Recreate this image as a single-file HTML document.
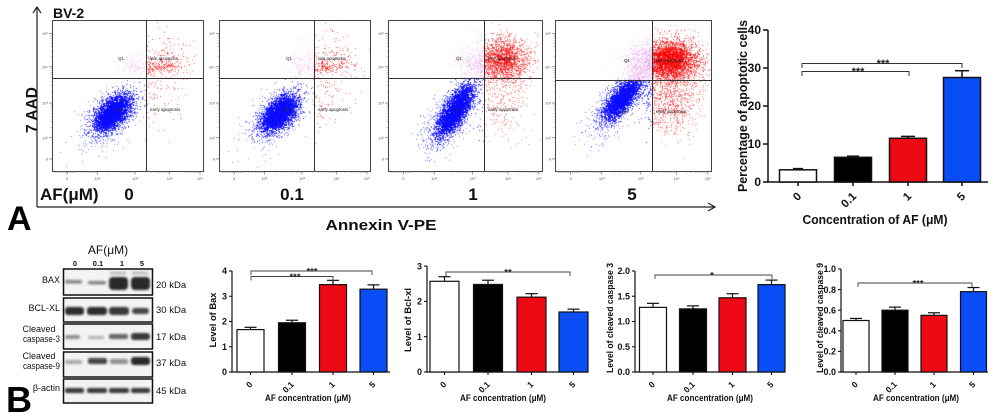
<!DOCTYPE html>
<html><head><meta charset="utf-8">
<style>
html,body{margin:0;padding:0;background:#fff;}
#wrap{position:relative;width:1000px;height:416px;overflow:hidden;background:#fff;}
#cv,#fb,#main{position:absolute;left:0;top:0;}
text{font-family:"Liberation Sans",Arial,sans-serif;}
</style></head><body>
<div id="wrap">
<svg id="fb" width="1000" height="416">
<defs><filter id="fbb"><feGaussianBlur stdDeviation="4"/></filter></defs>
<g filter="url(#fbb)" opacity="0.9">
<ellipse cx="112" cy="113" rx="16" ry="8" fill="#00f" transform="rotate(-45 112 113)"/>
<ellipse cx="279" cy="113" rx="16" ry="8" fill="#00f" transform="rotate(-45 279 113)"/>
<ellipse cx="454" cy="110" rx="20" ry="7" fill="#00f" transform="rotate(-58 454 110)"/>
<ellipse cx="502" cy="60" rx="14" ry="11" fill="#f00" opacity="0.7"/>
<ellipse cx="622" cy="98" rx="16" ry="6" fill="#00f" transform="rotate(-50 622 98)"/>
<ellipse cx="670" cy="60" rx="15" ry="11" fill="#f00"/>
<ellipse cx="670" cy="100" rx="14" ry="14" fill="#f66" opacity="0.5"/>
</g>
</svg>
<canvas id="cv" width="1000" height="416"></canvas>
<svg id="main" width="1000" height="416" viewBox="0 0 1000 416">
<defs>
<filter id="bl" x="-20%" y="-50%" width="140%" height="200%"><feGaussianBlur stdDeviation="1.1"/></filter>
</defs>

<!-- ===== Panel A axes ===== -->
<g stroke="#222" stroke-width="1.2" fill="none">
<line x1="37" y1="8" x2="37" y2="207"/>
<polyline points="33,13 37,7 41,13"/>
<line x1="37" y1="207" x2="714" y2="207"/>
<polyline points="708,203 715,207 708,211"/>
</g>
<text x="53" y="18" font-size="14" font-weight="bold" fill="#111">BV-2</text>
<text transform="translate(37,110) rotate(-90)" text-anchor="middle" font-size="16" font-weight="bold" fill="#111" textLength="46" lengthAdjust="spacingAndGlyphs">7 AAD</text>
<text x="40" y="200" font-size="17" font-weight="bold" fill="#111">AF(μM)</text>
<text x="129" y="200" text-anchor="middle" font-size="17" font-weight="bold" fill="#111">0</text>
<text x="292" y="200" text-anchor="middle" font-size="17" font-weight="bold" fill="#111">0.1</text>
<text x="473" y="200" text-anchor="middle" font-size="17" font-weight="bold" fill="#111">1</text>
<text x="632" y="200" text-anchor="middle" font-size="17" font-weight="bold" fill="#111">5</text>
<text x="381" y="230" text-anchor="middle" font-size="15" font-weight="bold" fill="#111" textLength="111" lengthAdjust="spacingAndGlyphs">Annexin V-PE</text>
<text x="7" y="230" font-size="34" font-weight="bold" fill="#000">A</text>

<g id="flowframes"></g>

<!-- ===== Top right bar chart ===== -->
<g stroke="#111" stroke-width="1.5" fill="none">
<line x1="768" y1="30" x2="768" y2="182.5"/>
<line x1="767" y1="182" x2="988" y2="182"/>
<line x1="763" y1="30" x2="768" y2="30"/>
<line x1="763" y1="68" x2="768" y2="68"/>
<line x1="763" y1="106" x2="768" y2="106"/>
<line x1="763" y1="144" x2="768" y2="144"/>
<line x1="763" y1="182" x2="768" y2="182"/>
<line x1="798" y1="182" x2="798" y2="186"/>
<line x1="853" y1="182" x2="853" y2="186"/>
<line x1="908" y1="182" x2="908" y2="186"/>
<line x1="962" y1="182" x2="962" y2="186"/>
</g>
<g font-size="12" font-weight="bold" fill="#111" text-anchor="end">
<text x="761" y="34">40</text><text x="761" y="72">30</text><text x="761" y="110">20</text><text x="761" y="148">10</text><text x="761" y="186">0</text>
</g>
<g stroke="#111" stroke-width="1.5">
<line x1="798" y1="169.8" x2="798" y2="168.6"/><line x1="793" y1="168.6" x2="803" y2="168.6"/>
<line x1="853" y1="157.3" x2="853" y2="156.2"/><line x1="847" y1="156.2" x2="859" y2="156.2"/>
<line x1="908" y1="138.3" x2="908" y2="136.4"/><line x1="901" y1="136.4" x2="915" y2="136.4"/>
<line x1="962" y1="77.5" x2="962" y2="70.7"/><line x1="955" y1="70.7" x2="969" y2="70.7"/>
<rect x="779.5" y="169.8" width="37" height="12.2" fill="#fff"/>
<rect x="834.5" y="157.3" width="37" height="24.7" fill="#000"/>
<rect x="889.5" y="138.3" width="37" height="43.7" fill="#ee0a14"/>
<rect x="943.5" y="77.5" width="37" height="104.5" fill="#0a4cf5"/>
</g>
<g stroke="#333" stroke-width="1" fill="none">
<polyline points="802,68 802,63.5 962,63.5 962,68"/>
<polyline points="802,76 802,71.5 909,71.5 909,76"/>
</g>
<g font-size="11" font-weight="bold" fill="#222" text-anchor="middle">
<text x="883" y="67">***</text><text x="858" y="75">***</text>
</g>
<g font-size="11.5" font-weight="bold" fill="#111" text-anchor="end">
<text transform="translate(802,197) rotate(-45)">0</text>
<text transform="translate(857,197) rotate(-45)">0.1</text>
<text transform="translate(912,197) rotate(-45)">1</text>
<text transform="translate(966,197) rotate(-45)">5</text>
</g>
<text x="875" y="224" text-anchor="middle" font-size="12.5" font-weight="bold" fill="#111" textLength="145" lengthAdjust="spacingAndGlyphs">Concentration of AF (μM)</text>
<text transform="translate(747,106) rotate(-90)" text-anchor="middle" font-size="12.5" font-weight="bold" fill="#111" textLength="172" lengthAdjust="spacingAndGlyphs">Percentage of apoptotic cells</text>

<!-- ===== Western blot ===== -->
<text x="108" y="254" text-anchor="middle" font-size="12" fill="#111">AF(μM)</text>
<g font-size="7.5" font-weight="bold" fill="#111" text-anchor="middle">
<text x="75" y="266">0</text><text x="98" y="266">0.1</text><text x="122" y="266">1</text><text x="142" y="266">5</text>
</g>
<g fill="#f3f3f3" stroke="#111" stroke-width="1.5">
<rect x="63.5" y="269" width="89" height="26"/>
<rect x="63.5" y="298" width="89" height="24"/>
<rect x="63.5" y="324" width="89" height="25"/>
<rect x="63.5" y="352" width="89" height="25"/>
<rect x="63.5" y="379" width="89" height="24"/>
</g>
<g filter="url(#bl)" fill="#1a1a1a">
<rect x="65" y="280" width="17" height="3.5" rx="1.5" opacity="0.5"/>
<rect x="88" y="281" width="18" height="3.5" rx="1.5" opacity="0.5"/>
<rect x="109" y="277" width="19" height="13" rx="4" opacity="0.95"/>
<rect x="131" y="277" width="19" height="13" rx="4" opacity="0.95"/>
<rect x="110" y="272" width="16" height="2" opacity="0.35"/>
<rect x="132" y="272" width="16" height="2" opacity="0.35"/>
<rect x="65" y="307" width="19" height="8" rx="3" opacity="0.9"/>
<rect x="87" y="307" width="20" height="8" rx="3" opacity="0.9"/>
<rect x="109" y="307" width="20" height="8" rx="3" opacity="0.85"/>
<rect x="132" y="308" width="17" height="6" rx="3" opacity="0.8"/>
<rect x="65" y="335" width="15" height="4" rx="2" opacity="0.45"/>
<rect x="88" y="336" width="16" height="3" rx="2" opacity="0.3"/>
<rect x="109" y="334" width="19" height="5" rx="2" opacity="0.65"/>
<rect x="131" y="333" width="19" height="7" rx="3" opacity="0.85"/>
<rect x="65" y="360" width="17" height="4" rx="2" opacity="0.35"/>
<rect x="88" y="358" width="19" height="6" rx="2" opacity="0.8"/>
<rect x="110" y="359" width="18" height="5" rx="2" opacity="0.45"/>
<rect x="131" y="357" width="19" height="8" rx="3" opacity="0.95"/>
<rect x="65" y="388" width="19" height="5" rx="2" opacity="0.85"/>
<rect x="87" y="388" width="20" height="5" rx="2" opacity="0.85"/>
<rect x="109" y="388" width="20" height="5" rx="2" opacity="0.85"/>
<rect x="131" y="388" width="19" height="5" rx="2" opacity="0.85"/>
</g>
<g font-size="9" fill="#111">
<text x="60" y="283" text-anchor="end">BAX</text>
<text x="60" y="311" text-anchor="end">BCL-XL</text>
<text x="39" y="332" text-anchor="middle">Cleaved</text>
<text x="60" y="342" text-anchor="end" textLength="37" lengthAdjust="spacingAndGlyphs">caspase-3</text>
<text x="39" y="359" text-anchor="middle">Cleaved</text>
<text x="60" y="369" text-anchor="end" textLength="37" lengthAdjust="spacingAndGlyphs">caspase-9</text>
<text x="60" y="391" text-anchor="end">β-actin</text>
</g>
<g font-size="9.5" fill="#111">
<text x="156" y="288">20 kDa</text>
<text x="156" y="313">30 kDa</text>
<text x="156" y="340">17 kDa</text>
<text x="156" y="366">37 kDa</text>
<text x="156" y="394">45 kDa</text>
</g>
<text x="6" y="412" font-size="36" font-weight="bold" fill="#000">B</text>

<g id="bottom"></g>
</svg>
</div>
<script>
(function(){
var NS="http://www.w3.org/2000/svg";
function el(tag,attrs,parent,txt){var e=document.createElementNS(NS,tag);for(var k in attrs)e.setAttribute(k,attrs[k]);if(txt!==undefined)e.textContent=txt;parent.appendChild(e);return e;}

var ff=document.getElementById('flowframes');
var plots=[
 {x0:52,y0:20,x1:203,y1:171,vx:146,hy:78},
 {x0:219,y0:20,x1:370,y1:171,vx:314,hy:78},
 {x0:388,y0:20,x1:542,y1:171,vx:484,hy:78},
 {x0:555,y0:20,x1:711,y1:171,vx:652,hy:80}
];
plots.forEach(function(p){
 var w=p.x1-p.x0,h=p.y1-p.y0;
 el('rect',{x:p.x0+0.5,y:p.y0+0.5,width:w,height:h,fill:'none',stroke:'#444','stroke-width':1},ff);
 el('line',{x1:p.vx+0.5,y1:p.y0,x2:p.vx+0.5,y2:p.y1,stroke:'#333','stroke-width':1},ff);
 el('line',{x1:p.x0,y1:p.hy+0.5,x2:p.x1,y2:p.hy+0.5,stroke:'#333','stroke-width':1},ff);
 var majors=[0.1,0.3,0.55,0.78,0.98];
 majors.forEach(function(m){var x=p.x0+w*m;el('line',{x1:x,y1:p.y1,x2:x,y2:p.y1+3.5,stroke:'#555','stroke-width':0.6},ff);});
 for(var k=0;k<4;k++){
   var s=p.x0+w*majors[k],e=p.x0+w*majors[k+1];
   for(var j=2;j<10;j++){var x=s+(e-s)*Math.log10(j);el('line',{x1:x,y1:p.y1,x2:x,y2:p.y1+2,stroke:'#777','stroke-width':0.5},ff);}
 }
 for(var q=0;q<12;q++){var x=p.x0+3+q*1.8;el('line',{x1:x,y1:p.y1,x2:x,y2:p.y1+2,stroke:'#777','stroke-width':0.5},ff);}
 var lbl=['0','10²','10³','10⁴','10⁵'];
 majors.forEach(function(m,i){el('text',{x:p.x0+w*m,y:p.y1+9,'font-size':4,'text-anchor':'middle',fill:'#555'},ff,lbl[i]);});
 var ly=[0.09,0.31,0.55,0.78,0.92];
 ly.forEach(function(m,i){var y=p.y0+h*m;el('line',{x1:p.x0-3,y1:y,x2:p.x0,y2:y,stroke:'#555','stroke-width':0.6},ff);
   el('text',{x:p.x0-4,y:y+1.5,'font-size':4,'text-anchor':'end',fill:'#555'},ff,['10⁵','10⁴','10³','10²','0'][i]);});
 for(var k2=0;k2<3;k2++){var s2=p.y0+h*ly[k2+1],e2=p.y0+h*ly[k2];for(var j2=2;j2<10;j2++){var y=s2+(e2-s2)*Math.log10(j2);el('line',{x1:p.x0-1.5,y1:y,x2:p.x0,y2:y,stroke:'#777','stroke-width':0.4},ff);}}
 el('text',{x:p.vx-28,y:p.hy-18,'font-size':4.5,fill:'#222'},ff,'Q1');
 el('text',{x:p.vx+4,y:p.hy-18,'font-size':4.5,fill:'#222'},ff,'late apoptosis');
 el('text',{x:p.vx-30,y:p.hy+33,'font-size':4.5,fill:'#222'},ff,'live');
 el('text',{x:p.vx+4,y:p.hy+33,'font-size':4.5,fill:'#222'},ff,'early apoptosis');
});

var cv=document.getElementById('cv');var ctx=cv.getContext('2d');
var seed=987654;
function R(){seed|=0;seed=seed+0x6D2B79F5|0;var t=Math.imul(seed^seed>>>15,1|seed);t=t+Math.imul(t^t>>>7,61|t)^t;return((t^t>>>14)>>>0)/4294967296;}
function G(){var u=R()||1e-9,v=R();return Math.sqrt(-2*Math.log(u))*Math.cos(2*Math.PI*v);}
function cloud(p,c){
 var th=c.ang*Math.PI/180,ux=Math.cos(th),uy=-Math.sin(th),vx=Math.sin(th),vy=Math.cos(th);
 for(var i=0;i<c.n;i++){
  var a=G()*c.a,b=G()*c.b;
  var x=c.x+a*ux+b*vx,y=c.y+a*uy+b*vy;
  if(x<p.x0+1||x>p.x1-1||y<p.y0+1||y>p.y1-1)continue;
  var col;
  if(x>=p.vx)col='rgba(250,0,0,'+(c.ra||0.6)+')';
  else if(y<p.hy)col='rgba(225,140,230,'+(c.pa||0.35)+')';
  else col='rgba(10,10,255,'+(c.ba||0.8)+')';
  ctx.fillStyle=col;ctx.fillRect(Math.round(x),Math.round(y),1,1);
 }
}
function pl(p,list){list.forEach(function(c){cloud(p,c);});}
pl(plots[0],[
 {x:112,y:113,a:11,b:6,ang:45,n:3600},
 {x:110,y:116,a:18,b:10,ang:45,n:700,ba:0.5},
 {x:136,y:66,a:10,b:7,ang:0,n:150},
 {x:160,y:66,a:12,b:3,ang:0,n:160},
 {x:165,y:55,a:15,b:14,ang:0,n:150},
 {x:160,y:100,a:12,b:18,ang:0,n:80}
]);
pl(plots[1],[
 {x:279,y:113,a:11,b:6,ang:45,n:3600},
 {x:277,y:116,a:18,b:10,ang:45,n:700,ba:0.5},
 {x:303,y:66,a:10,b:7,ang:0,n:150},
 {x:328,y:66,a:12,b:3,ang:0,n:150},
 {x:332,y:55,a:15,b:14,ang:0,n:150},
 {x:328,y:100,a:12,b:18,ang:0,n:80}
]);
pl(plots[2],[
 {x:455,y:110,a:14,b:5,ang:58,n:3800},
 {x:450,y:116,a:19,b:9,ang:55,n:900,ba:0.5},
 {x:472,y:64,a:10,b:8,ang:0,n:300},
 {x:502,y:60,a:12,b:10,ang:0,n:1400,ra:0.6},
 {x:505,y:60,a:18,b:15,ang:0,n:450,ra:0.5},
 {x:502,y:102,a:14,b:18,ang:0,n:250,ra:0.5}
]);
pl(plots[3],[
 {x:622,y:98,a:13,b:5,ang:50,n:2800},
 {x:616,y:106,a:19,b:9,ang:50,n:700,ba:0.5},
 {x:640,y:62,a:10,b:10,ang:0,n:600},
 {x:670,y:60,a:12,b:9,ang:0,n:2600,ra:0.7},
 {x:672,y:62,a:20,b:16,ang:0,n:800,ra:0.5},
 {x:670,y:100,a:15,b:17,ang:0,n:800,ra:0.5}
]);
document.getElementById('fb').style.display='none';

var bt=document.getElementById('bottom');
var charts=[
 {ax:232,y0:372,xe:390,scale:25.25,ticks:[0,1,2,3,4],fmt:0,w:27,cx:[250.5,292,333,373.5],
  v:[1.68,1.95,3.46,3.28],e:[1.77,2.05,3.63,3.45],br:[[251,372,271,312],[251,333,276.5,295]],stars:['***','***'],
  title:'Level of Bax',tl:55,tx:216,ty:320,xt:308},
 {ax:427,y0:372,xe:588,scale:35.3,ticks:[0,1,2,3],fmt:0,w:29,cx:[444.5,488,531.5,573.5],
  v:[2.57,2.48,2.12,1.70],e:[2.70,2.60,2.22,1.78],br:[[446,570,272,508]],stars:['**'],
  title:'Level of Bcl-xl',tl:64,tx:411,ty:320,xt:503},
 {ax:635,y0:372,xe:785,scale:50.5,ticks:[0,0.5,1,1.5,2],fmt:1,w:27,cx:[653,693,732.5,771.5],
  v:[1.28,1.25,1.47,1.73],e:[1.36,1.31,1.55,1.82],br:[[655,772,275,712]],stars:['*'],
  title:'Level of cleaved caspase 3',tl:110,tx:613,ty:318,xt:710},
 {ax:841,y0:372,xe:988,scale:103,ticks:[0,0.2,0.4,0.6,0.8,1.0],fmt:1,w:26,cx:[856,895,934,973.5],
  v:[0.50,0.60,0.55,0.78],e:[0.52,0.63,0.575,0.82],br:[[858,972,283,918]],stars:['***'],
  title:'Level of cleaved caspase 9',tl:110,tx:823,ty:318,xt:916}
];
var fills=['#fff','#000','#ee0a14','#0a4cf5'];
var cats=['0','0.1','1','5'];
charts.forEach(function(c){
 el('line',{x1:c.ax,y1:c.y0-c.ticks[c.ticks.length-1]*c.scale,x2:c.ax,y2:c.y0+0.6,stroke:'#111','stroke-width':1.2},bt);
 el('line',{x1:c.ax-0.6,y1:c.y0,x2:c.xe,y2:c.y0,stroke:'#111','stroke-width':1.2},bt);
 c.ticks.forEach(function(t){var y=c.y0-t*c.scale;
  el('line',{x1:c.ax-3,y1:y,x2:c.ax,y2:y,stroke:'#111','stroke-width':1.1},bt);
  el('text',{x:c.ax-5,y:y+3.2,'font-size':9,'font-weight':'bold','text-anchor':'end',fill:'#111'},bt,c.fmt?t.toFixed(1):String(t));
 });
 c.cx.forEach(function(x,i){
  el('line',{x1:x,y1:c.y0,x2:x,y2:c.y0+3,stroke:'#111','stroke-width':1.1},bt);
  var yt=c.y0-c.v[i]*c.scale,ye=c.y0-c.e[i]*c.scale;
  el('line',{x1:x,y1:yt,x2:x,y2:ye,stroke:'#111','stroke-width':1.2},bt);
  el('line',{x1:x-6,y1:ye,x2:x+6,y2:ye,stroke:'#111','stroke-width':1.2},bt);
  el('rect',{x:x-c.w/2,y:yt,width:c.w,height:c.v[i]*c.scale,fill:fills[i],stroke:'#111','stroke-width':1.2},bt);
  el('text',{transform:'translate('+(x+2.5)+','+(c.y0+13)+') rotate(-45)','font-size':8.5,'font-weight':'bold','text-anchor':'end',fill:'#111'},bt,cats[i]);
 });
 c.br.forEach(function(b,i){
  el('polyline',{points:b[0]+','+(b[2]+4)+' '+b[0]+','+b[2]+' '+b[1]+','+b[2]+' '+b[1]+','+(b[2]+4),fill:'none',stroke:'#444','stroke-width':0.9},bt);
  el('text',{x:b[3],y:b[2]+3.5,'font-size':9.5,'font-weight':'bold','text-anchor':'middle',fill:'#222'},bt,c.stars[i]);
 });
 el('text',{transform:'translate('+c.tx+','+c.ty+') rotate(-90)','font-size':9,'font-weight':'bold','text-anchor':'middle',fill:'#111',textLength:c.tl,lengthAdjust:'spacingAndGlyphs'},bt,c.title);
 el('text',{x:c.xt,y:401,'font-size':9.5,'font-weight':'bold','text-anchor':'middle',fill:'#111',textLength:86,lengthAdjust:'spacingAndGlyphs'},bt,'AF concentration (μM)');
});
})();
</script>
</body></html>
